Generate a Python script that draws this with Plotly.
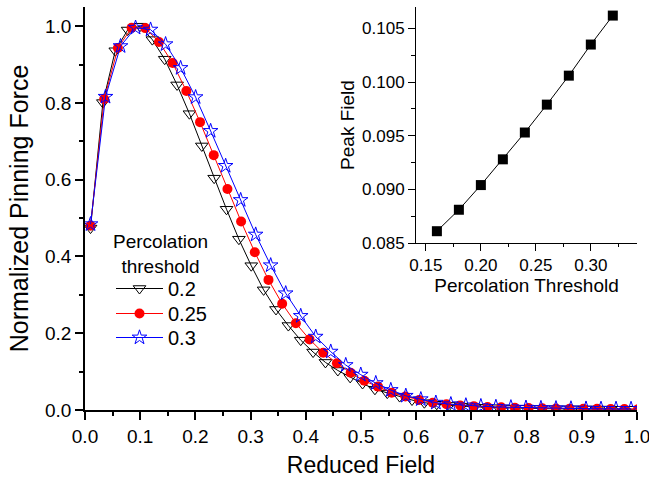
import plotly.graph_objects as go

# ---- main panel data: reduced field vs normalized pinning force ----
x_02 = [0.0100, 0.0324, 0.0548, 0.0772, 0.0996, 0.1220, 0.1444, 0.1668, 0.1892, 0.2116,
        0.2340, 0.2564, 0.2788, 0.3012, 0.3236, 0.3460, 0.3684, 0.3908, 0.4132, 0.4356,
        0.4580, 0.4804, 0.5028, 0.5252, 0.5476, 0.5700, 0.5924, 0.6148, 0.6372, 0.6596,
        0.6820, 0.7044, 0.7268, 0.7492, 0.7716, 0.7940, 0.8164, 0.8388, 0.8612, 0.8836,
        0.9060, 0.9284, 0.9508, 0.9732, 0.9956]
y_02 = [0.474, 0.801, 0.936, 0.990, 1.000, 0.965, 0.914, 0.847, 0.772, 0.688,
        0.604, 0.523, 0.445, 0.376, 0.313, 0.262, 0.220, 0.182, 0.151, 0.124,
        0.103, 0.085, 0.069, 0.054, 0.044, 0.035, 0.026, 0.019, 0.015, 0.012,
        0.010, 0.008, 0.007, 0.006, 0.005, 0.0045, 0.004, 0.0035, 0.003, 0.003,
        0.0028, 0.0025, 0.0023, 0.002, 0.002]

x_025 = [0.0100, 0.0348, 0.0596, 0.0844, 0.1092, 0.1340, 0.1588, 0.1836, 0.2084, 0.2332,
         0.2580, 0.2828, 0.3076, 0.3324, 0.3572, 0.3820, 0.4068, 0.4316, 0.4564, 0.4812,
         0.5060, 0.5308, 0.5556, 0.5804, 0.6052, 0.6300, 0.6548, 0.6796, 0.7044, 0.7292,
         0.7540, 0.7788, 0.8036, 0.8284, 0.8532, 0.8780, 0.9028, 0.9276, 0.9524, 0.9772,
         1.0020]
y_025 = [0.480, 0.810, 0.943, 0.996, 0.995, 0.959, 0.904, 0.831, 0.750, 0.664,
         0.576, 0.491, 0.411, 0.339, 0.277, 0.226, 0.184, 0.149, 0.122, 0.097,
         0.076, 0.061, 0.045, 0.035, 0.026, 0.019, 0.015, 0.012, 0.010, 0.008,
         0.007, 0.006, 0.005, 0.0045, 0.004, 0.0035, 0.003, 0.003, 0.0028, 0.0025,
         0.0023]

x_03 = [0.0100, 0.0372, 0.0644, 0.0916, 0.1188, 0.1460, 0.1732, 0.2004, 0.2276, 0.2548,
        0.2820, 0.3092, 0.3364, 0.3636, 0.3908, 0.4180, 0.4452, 0.4724, 0.4996, 0.5268,
        0.5540, 0.5812, 0.6084, 0.6356, 0.6628, 0.6900, 0.7172, 0.7444, 0.7716, 0.7988,
        0.8260, 0.8532, 0.8804, 0.9076, 0.9348, 0.9620, 0.9892]
y_03 = [0.484, 0.816, 0.948, 0.996, 0.991, 0.953, 0.891, 0.815, 0.727, 0.636,
        0.547, 0.457, 0.377, 0.304, 0.245, 0.191, 0.152, 0.117, 0.092, 0.070,
        0.052, 0.037, 0.028, 0.019, 0.015, 0.012, 0.010, 0.008, 0.007, 0.006,
        0.005, 0.0045, 0.004, 0.0035, 0.003, 0.003, 0.0028]

series_names = ["0.2", "0.25", "0.3"]
legend_title = "Percolation<br>threshold"

# ---- inset data: percolation threshold vs peak field ----
perc_threshold = [0.16, 0.18, 0.20, 0.22, 0.24, 0.26, 0.28, 0.30, 0.32]
peak_field = [0.0861, 0.0881, 0.0904, 0.0928, 0.0953, 0.0979, 0.1006, 0.1035, 0.1062]

# ---- tick labels ----
main_xticks = [0.0, 0.1, 0.2, 0.3, 0.4, 0.5, 0.6, 0.7, 0.8, 0.9, 1.0]
main_xlabels = ["0.0", "0.1", "0.2", "0.3", "0.4", "0.5", "0.6", "0.7", "0.8", "0.9", "1.0"]
main_yticks = [0.0, 0.2, 0.4, 0.6, 0.8, 1.0]
main_ylabels = ["0.0", "0.2", "0.4", "0.6", "0.8", "1.0"]
inset_xticks = [0.15, 0.20, 0.25, 0.30]
inset_xlabels = ["0.15", "0.20", "0.25", "0.30"]
inset_yticks = [0.085, 0.090, 0.095, 0.100, 0.105]
inset_ylabels = ["0.085", "0.090", "0.095", "0.100", "0.105"]

FONT = "Liberation Sans, Arial, sans-serif"
W, H = 649, 478

fig = go.Figure()

fig.add_trace(go.Scatter(
    x=x_02, y=y_02, name=series_names[0], mode="lines+markers", legend="legend",
    line=dict(color="black", width=1),
    marker=dict(symbol="triangle-down-open", size=11, color="black", line=dict(width=1)),
    xaxis="x", yaxis="y"))
fig.add_trace(go.Scatter(
    x=x_025, y=y_025, name=series_names[1], mode="lines+markers", legend="legend2",
    line=dict(color="red", width=1),
    marker=dict(symbol="circle", size=10, color="red"),
    xaxis="x", yaxis="y"))
fig.add_trace(go.Scatter(
    x=x_03, y=y_03, name=series_names[2], mode="lines+markers", legend="legend3",
    line=dict(color="blue", width=1),
    marker=dict(symbol="star-open", size=11, color="blue", line=dict(width=1)),
    xaxis="x", yaxis="y"))

fig.add_trace(go.Scatter(
    x=perc_threshold, y=peak_field, mode="lines+markers", showlegend=False,
    line=dict(color="black", width=1),
    marker=dict(symbol="square", size=10, color="black"),
    xaxis="x2", yaxis="y2"))

# domains in pixels
main_l, main_r, main_t, main_b = 85, 637, 7, 410
ins_l, ins_r, ins_t, ins_b = 416, 637, 7, 243

def fx(px):
    return px / W

def fy(py):
    return (H - py) / H

axis_common = dict(showgrid=False, zeroline=False, showline=True, linecolor="black",
                   tickcolor="black", color="black", automargin=False,
                   ticklabeloverflow="allow")

def legend_at(top_px):
    return dict(x=fx(111), y=fy(top_px), xanchor="left", yanchor="top",
                bgcolor="rgba(0,0,0,0)", font=dict(size=20, family=FONT),
                itemwidth=47, tracegroupgap=0)

fig.update_layout(
    width=W, height=H,
    margin=dict(l=0, r=0, t=0, b=0),
    paper_bgcolor="white", plot_bgcolor="white",
    font=dict(family=FONT, color="black"),
    showlegend=True,
    legend=legend_at(269),
    legend2=legend_at(294),
    legend3=legend_at(318),
    annotations=[dict(
        text=legend_title, xref="paper", yref="paper",
        x=fx(160), y=fy(229), xanchor="center", yanchor="top", align="center",
        showarrow=False, font=dict(size=19, family=FONT, color="black"),
    )],
    xaxis=dict(
        **axis_common, domain=[fx(main_l), fx(main_r)], anchor="y",
        range=[0, 1.0], tickvals=main_xticks, ticktext=main_xlabels,
        ticks="outside", ticklen=8, tickwidth=1.5, linewidth=1.5,
        minor=dict(ticks="outside", ticklen=4, dtick=0.05, tick0=0, tickcolor="black", tickwidth=1.5),
        tickfont=dict(size=19, family=FONT),
        title=dict(text="Reduced Field", font=dict(size=23, family=FONT), standoff=14),
    ),
    yaxis=dict(
        **axis_common, domain=[fy(main_b), fy(main_t)], anchor="x",
        range=[0, 1.05], tickvals=main_yticks, ticktext=main_ylabels,
        ticks="outside", ticklen=8, tickwidth=1.5, linewidth=1.5,
        minor=dict(ticks="outside", ticklen=4, dtick=0.1, tick0=0, tickcolor="black", tickwidth=1.5),
        tickfont=dict(size=19, family=FONT),
        title=dict(text="Normalized Pinning Force", font=dict(size=25, family=FONT), standoff=9),
    ),
    xaxis3=dict(
        **axis_common, overlaying="x", anchor="y", side="top",
        range=[0, 1.0], tickvals=main_xticks, showticklabels=False,
        ticks="inside", ticklen=5, tickwidth=1.5, linewidth=1.5,
        minor=dict(ticks="inside", ticklen=3, dtick=0.05, tick0=0, tickcolor="black", tickwidth=1.5),
    ),
    yaxis3=dict(
        **axis_common, overlaying="y", anchor="x", side="right",
        range=[0, 1.05], tickvals=main_yticks, showticklabels=False,
        ticks="inside", ticklen=5, tickwidth=1.5, linewidth=1.5,
        minor=dict(ticks="inside", ticklen=3, dtick=0.1, tick0=0, tickcolor="black", tickwidth=1.5),
    ),
    xaxis2=dict(
        **axis_common, domain=[fx(ins_l), fx(ins_r)], anchor="y2",
        range=[0.141, 0.342], tickvals=inset_xticks, ticktext=inset_xlabels,
        ticks="outside", ticklen=7, tickwidth=1, linewidth=1,
        minor=dict(ticks="outside", ticklen=3, dtick=0.025, tick0=0.15, tickcolor="black"),
        tickfont=dict(size=17, family=FONT),
        title=dict(text="Percolation Threshold", font=dict(size=19, family=FONT), standoff=2),
    ),
    yaxis2=dict(
        **axis_common, domain=[fy(ins_b), fy(ins_t)], anchor="x2",
        range=[0.085, 0.107], tickvals=inset_yticks, ticktext=inset_ylabels,
        ticks="outside", ticklen=7, tickwidth=1, linewidth=1,
        minor=dict(ticks="outside", ticklen=4, dtick=0.0025, tick0=0.085, tickcolor="black"),
        tickfont=dict(size=17, family=FONT),
        title=dict(text="Peak Field", font=dict(size=19, family=FONT), standoff=2),
    ),
)

fig.write_html("out.html", config={"displayModeBar": False},
               post_script="document.body.style.margin='0px';")
